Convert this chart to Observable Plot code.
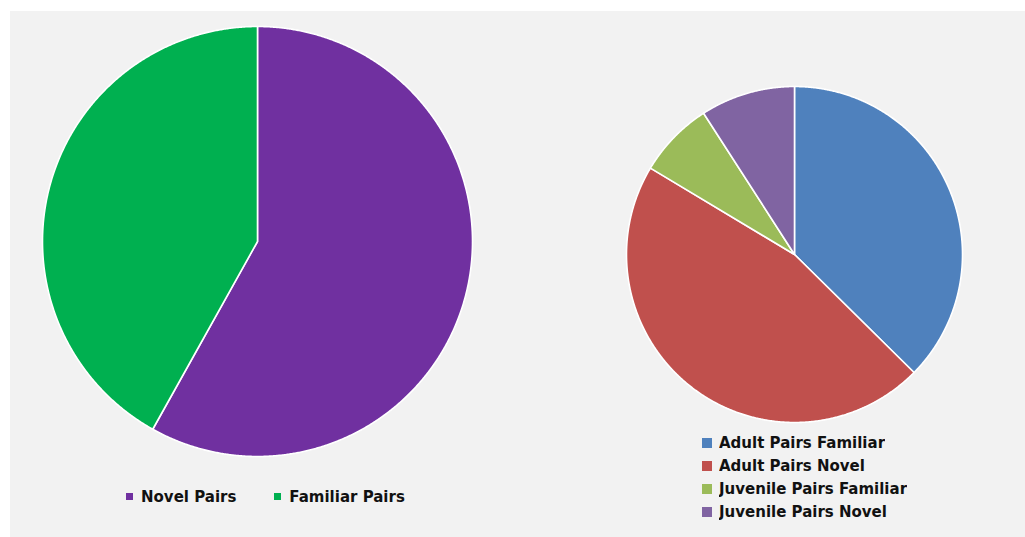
<!DOCTYPE html>
<html>
<head>
<meta charset="utf-8">
<script src="https://cdn.jsdelivr.net/npm/d3@7"></script>
<script src="https://cdn.jsdelivr.net/npm/@observablehq/plot@0.6"></script>
<style>
  html, body { margin: 0; padding: 0; background: #ffffff; width: 1025px; height: 537px; overflow: hidden; }
  #frame { position: absolute; left: 10px; top: 11px; width: 1015px; height: 526px; background: #f2f2f2; }
  .abs { position: absolute; }
  #ll .legL-swatch { margin-right: 38px; }
  #ll .legL-swatch svg { margin-right: 8px; }
  #rl .legR-swatch svg { margin-right: 7px; }
  #rl { width: 280px; }
</style>
</head>
<body>
<div id="frame"></div>
<div id="lp" class="abs" style="left:40px; top:24px;"></div>
<div id="ll" class="abs" style="left:126px; top:480px;"></div>
<div id="rp" class="abs" style="left:624px; top:84px;"></div>
<div id="rl" class="abs" style="left:702px; top:432px;"></div>
<script>
// ---- data ----
const pairCategories = ["Novel Pairs", "Familiar Pairs"];
const pairValues = [58.1, 41.9];
const pairColors = ["#7030a0", "#00b050"];

const groupCategories = ["Adult Pairs Familiar", "Adult Pairs Novel", "Juvenile Pairs Familiar", "Juvenile Pairs Novel"];
const groupValues = [37.4, 46.2, 7.3, 9.1];
const groupColors = ["#4f81bd", "#c0504d", "#9bbb59", "#8064a2"];

// build slice outlines (unit circle) from d3.pie angles
function slices(categories, values) {
  const arcs = d3.pie().sort(null).value(d => d)(values);
  const pts = [];
  arcs.forEach((a, i) => {
    const n = Math.max(2, Math.ceil((a.endAngle - a.startAngle) / 0.005));
    pts.push({k: categories[i], x: 0, y: 0});
    for (let j = 0; j <= n; j++) {
      const t = a.startAngle + (a.endAngle - a.startAngle) * j / n;
      pts.push({k: categories[i], x: Math.sin(t), y: Math.cos(t)});
    }
  });
  return pts;
}

function pie(categories, values, colors, radius) {
  const m = 2;
  const size = 2 * radius + 2 * m;
  return Plot.plot({
    width: size, height: size, margin: m,
    style: {background: "transparent", overflow: "visible"},
    x: {domain: [-1, 1], axis: null},
    y: {domain: [-1, 1], axis: null},
    color: {domain: categories, range: colors},
    marks: [
      Plot.line(slices(categories, values), {
        x: "x", y: "y", z: "k", fill: "k",
        stroke: "#ffffff", strokeWidth: 1.6, strokeLinejoin: "round",
        curve: "linear-closed"
      })
    ]
  });
}

const legendStyle = {fontFamily: "'DejaVu Sans', sans-serif", fontSize: "15px", fontWeight: 700, color: "#111111", background: "transparent"};

document.getElementById("lp").append(pie(pairCategories, pairValues, pairColors, 215));
document.getElementById("ll").append(Plot.legend({
  color: {domain: pairCategories, range: pairColors},
  legend: "swatches", swatchSize: 7, className: "legL",
  style: legendStyle
}));

document.getElementById("rp").append(pie(groupCategories, groupValues, groupColors, 168));
document.getElementById("rl").append(Plot.legend({
  color: {domain: groupCategories, range: groupColors},
  legend: "swatches", swatchSize: 10, columns: 1, className: "legR",
  style: {...legendStyle, lineHeight: "22px"}
}));
</script>
</body>
</html>
